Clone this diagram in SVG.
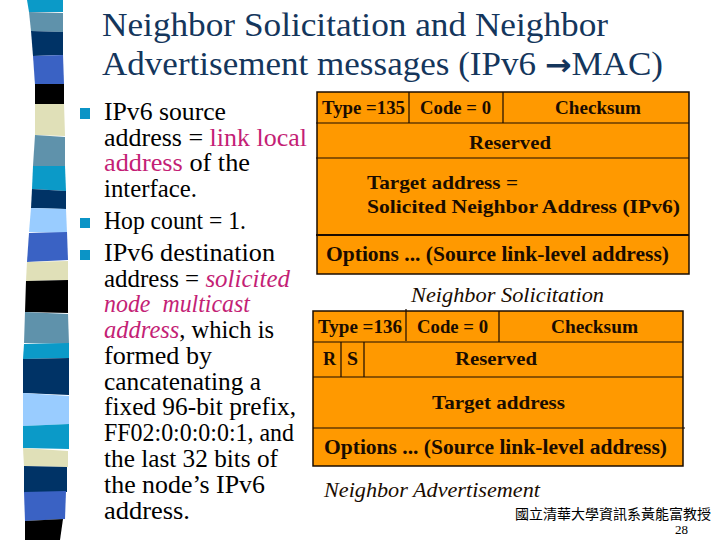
<svg xmlns="http://www.w3.org/2000/svg" width="720" height="540" viewBox="0 0 720 540">
<style>
text{font-family:"Liberation Serif","Noto Sans CJK TC",serif;fill:#000}
.t{font-size:33px;fill:#14365c}
.a{font-family:"DejaVu Sans",sans-serif;font-weight:bold;font-size:30px}
.b{font-size:25px}
.p{fill:#c41f76}
.i{font-style:italic}
.f{font-size:19px;font-weight:bold;fill:#1a0c00}
.c{font-size:20px;font-weight:bold;fill:#1a0c00}
.box{fill:#ff9900;stroke:#1a0c00;stroke-width:1.5}
.l{stroke:#1a0c00;stroke-width:1.2;fill:none}
.bu{fill:#0b94c6}
</style>
<g id="stripes">
<polygon points="27,0 63,0 63,12 29,12" fill="#0b9ac8"/>
<polygon points="29,12 63,13 63,32 31,31" fill="#5f92ab"/>
<polygon points="31,31 63,32 63,55 33,56" fill="#003366"/>
<polygon points="33,56 63,55 64,84 35,85" fill="#3a62c4"/>
<polygon points="35,84 64,84 64,104 35,104" fill="#000"/>
<polygon points="35,104 64,104 65,136 35,135" fill="#e0e0b8"/>
<polygon points="35,135 65,137 65,166 33,166" fill="#5f92ab"/>
<polygon points="33,166 65,166 66,191 32,189" fill="#0b9ac8"/>
<polygon points="32,189 66,191 66,209 31,208" fill="#003366"/>
<polygon points="31,208 66,209 67,233 29,232" fill="#99ccff"/>
<polygon points="29,233 67,232 68,260 27,262" fill="#3a62c4"/>
<polygon points="27,262 68,261 68,280 26,281" fill="#e0e0b8"/>
<polygon points="26,281 68,280 68,313 25,312" fill="#000"/>
<polygon points="25,312 68,314 69,344 24,343" fill="#5f92ab"/>
<polygon points="24,344 69,343 69,358 23,359" fill="#0b9ac8"/>
<polygon points="23,359 69,358 69,395 23,393" fill="#003366"/>
<polygon points="23,393 69,396 69,424 23,426" fill="#99ccff"/>
<polygon points="23,426 69,424 69,449 23,448" fill="#0b9ac8"/>
<polygon points="23,448 68,451 68,467 24,466" fill="#e0e0b8"/>
<polygon points="24,466 67,467 67,492 24,493" fill="#003366"/>
<polygon points="24,492 66,491 65,519 25,521" fill="#3a62c4"/>
<polygon points="25,521 63,519 60,540 25,540" fill="#000"/>
</g>
<g id="title">
<text class="t" x="102" y="36" textLength="506" lengthAdjust="spacingAndGlyphs">Neighbor Solicitation and Neighbor</text>
<text class="t" x="102" y="75" textLength="561" lengthAdjust="spacingAndGlyphs">Advertisement messages (IPv6 <tspan class="a">→</tspan>MAC)</text>
</g>
<g id="bullets">
<rect class="bu" x="80" y="108" width="10" height="11"/>
<rect class="bu" x="80" y="218" width="10" height="10"/>
<rect class="bu" x="80" y="250" width="10" height="10"/>
</g>
<g id="body">
<text class="b" x="104" y="120" textLength="122" lengthAdjust="spacingAndGlyphs">IPv6 source</text>
<text class="b" x="104" y="146" textLength="203" lengthAdjust="spacingAndGlyphs">address = <tspan class="p">link local</tspan></text>
<text class="b" x="104" y="171" textLength="146" lengthAdjust="spacingAndGlyphs"><tspan class="p">address</tspan> of the</text>
<text class="b" x="104" y="197" textLength="93" lengthAdjust="spacingAndGlyphs">interface.</text>
<text class="b" x="104" y="229" textLength="142" lengthAdjust="spacingAndGlyphs">Hop count = 1.</text>
<text class="b" x="104" y="261" textLength="171" lengthAdjust="spacingAndGlyphs">IPv6 destination</text>
<text class="b" x="104" y="287" textLength="186" lengthAdjust="spacingAndGlyphs">address = <tspan class="p i">solicited</tspan></text>
<text class="b p i" style="white-space:pre" x="104" y="312" textLength="146" lengthAdjust="spacingAndGlyphs">node  multicast</text>
<text class="b" x="104" y="338" textLength="170" lengthAdjust="spacingAndGlyphs"><tspan class="p i">address</tspan>, which is</text>
<text class="b" x="104" y="364" textLength="108" lengthAdjust="spacingAndGlyphs">formed by</text>
<text class="b" x="104" y="390" textLength="157" lengthAdjust="spacingAndGlyphs">cancatenating a</text>
<text class="b" x="104" y="415" textLength="192" lengthAdjust="spacingAndGlyphs">fixed 96-bit prefix,</text>
<text class="b" x="104" y="441" textLength="190" lengthAdjust="spacingAndGlyphs">FF02:0:0:0:0:1, and</text>
<text class="b" x="104" y="467" textLength="174" lengthAdjust="spacingAndGlyphs">the last 32 bits of</text>
<text class="b" x="104" y="493" textLength="161" lengthAdjust="spacingAndGlyphs">the node’s IPv6</text>
<text class="b" x="104" y="519" textLength="86" lengthAdjust="spacingAndGlyphs">address.</text>
</g>
<g id="solicitation">
<rect class="box" x="317" y="92" width="372" height="182"/>
<path class="l" d="M316 123H689M316 158H689M409 92V123M503 92V123"/>
<path d="M316 235H689" stroke="#1a0c00" stroke-width="2"/>
<text class="f" x="322" y="114" textLength="83" lengthAdjust="spacingAndGlyphs">Type =135</text>
<text class="f" x="420" y="114" textLength="71" lengthAdjust="spacingAndGlyphs">Code = 0</text>
<text class="f" x="555" y="114" textLength="86" lengthAdjust="spacingAndGlyphs">Checksum</text>
<text class="f" x="469" y="149" textLength="82" lengthAdjust="spacingAndGlyphs">Reserved</text>
<text class="f" x="367" y="189" textLength="151" lengthAdjust="spacingAndGlyphs">Target address =</text>
<text class="f" x="367" y="213" textLength="313" lengthAdjust="spacingAndGlyphs">Solicited Neighbor Address (IPv6)</text>
<text class="c" x="326" y="261" textLength="343" lengthAdjust="spacingAndGlyphs">Options ... (Source link-level address)</text>
<text class="c i" style="font-weight:normal" x="411" y="302" textLength="193" lengthAdjust="spacingAndGlyphs">Neighbor Solicitation</text>
</g>
<g id="advertisement">
<rect class="box" x="313" y="311" width="370" height="155"/>
<path class="l" d="M313 342H683M313 377H683M313 428H685M406 309V341M499 311V342M341 342V377M364 342V377"/>
<text class="f" x="318" y="333" textLength="84" lengthAdjust="spacingAndGlyphs">Type =136</text>
<text class="f" x="417" y="333" textLength="71" lengthAdjust="spacingAndGlyphs">Code = 0</text>
<text class="f" x="551" y="333" textLength="87" lengthAdjust="spacingAndGlyphs">Checksum</text>
<text class="f" x="323" y="365" textLength="13" lengthAdjust="spacingAndGlyphs">R</text>
<text class="f" x="347" y="365" textLength="11" lengthAdjust="spacingAndGlyphs">S</text>
<text class="f" x="455" y="365" textLength="82" lengthAdjust="spacingAndGlyphs">Reserved</text>
<text class="f" x="432" y="409" textLength="133" lengthAdjust="spacingAndGlyphs">Target address</text>
<text class="c" x="324" y="454" textLength="343" lengthAdjust="spacingAndGlyphs">Options ... (Source link-level address)</text>
<text class="c i" style="font-weight:normal" x="324" y="497" textLength="216" lengthAdjust="spacingAndGlyphs">Neighbor Advertisement</text>
</g>
<g id="footer">
<text x="515" y="519" font-size="14" textLength="196">國立清華大學資訊系黃能富教授</text>
<text x="675" y="534" font-size="13" textLength="13">28</text>
</g>
</svg>
